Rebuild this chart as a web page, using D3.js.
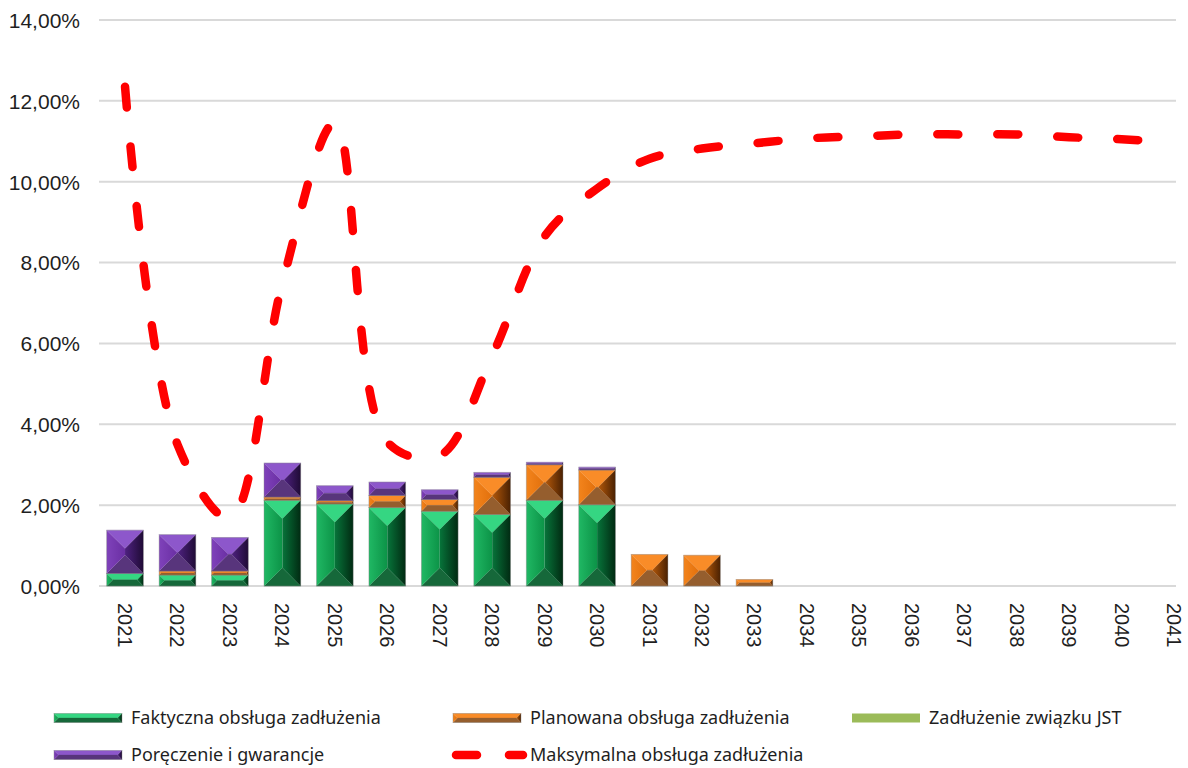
<!DOCTYPE html>
<html>
<head>
<meta charset="utf-8">
<script src="https://cdn.jsdelivr.net/npm/d3@7/dist/d3.min.js"></script>
<style>
	body { margin: 0; background: #ffffff; }
	svg { display: block; font-family: "Noto Sans", "Open Sans", sans-serif; }
	.axis text { fill: #1f1f1f; }
	.legend text { fill: #1f1f1f; font-size: 18px; }
</style>
</head>
<body>
<svg id="chart" width="1188" height="768"></svg>
<script>
// data (percent of revenue)
var years = ["2021", "2022", "2023", "2024", "2025", "2026", "2027", "2028", "2029", "2030", "2031",
	"2032", "2033", "2034", "2035", "2036", "2037", "2038", "2039", "2040", "2041"];
var faktyczna = [0.31, 0.27, 0.27, 2.12, 2.03, 1.94, 1.85, 1.77, 2.12, 2.01, 0, 0, 0, 0, 0, 0, 0, 0, 0, 0, 0];
var planowana = [0, 0.10, 0.10, 0.08, 0.08, 0.30, 0.29, 0.92, 0.88, 0.86, 0.78, 0.76, 0.16, 0, 0, 0, 0, 0, 0, 0, 0];
var zwiazekJST = [0, 0, 0, 0, 0, 0, 0, 0, 0, 0, 0, 0, 0, 0, 0, 0, 0, 0, 0, 0, 0];
var poreczenia = [1.07, 0.90, 0.83, 0.84, 0.37, 0.33, 0.24, 0.12, 0.06, 0.07, 0, 0, 0, 0, 0, 0, 0, 0, 0, 0, 0];
var maksymalna = [12.35, 3.5, 1.68, 7.5, 11.45, 3.56, 3.23, 5.7, 8.65, 9.83, 10.57,
	10.82, 10.95, 11.07, 11.12, 11.17, 11.17, 11.17, 11.1, 11.05, 10.97];
var yTicks = [0, 2, 4, 6, 8, 10, 12, 14];

var seriesNames = ["Faktyczna obsługa zadłużenia", "Planowana obsługa zadłużenia",
	"Zadłużenie związku JST", "Poręczenie i gwarancje", "Maksymalna obsługa zadłużenia"];

// bevel colours per series
var palettes = {
	green: { top: "#35d682", bottom: "#16683a", leftA: "#20b864", leftB: "#0c9347", rightA: "#07743a", rightB: "#012a12" },
	orange: { top: "#f98c28", bottom: "#955e2e", leftA: "#f3841c", leftB: "#e2700c", rightA: "#b3580a", rightB: "#4a2102" },
	purple: { top: "#8d57cb", bottom: "#58357c", leftA: "#7f42ba", leftB: "#6a2fa3", rightA: "#4e2180", rightB: "#1f0b35" },
	light: { flat: "#9bbb59" }
};

var svg = d3.select("#chart");
var defs = svg.append("defs");

Object.keys(palettes).forEach(function(key) {
	var p = palettes[key];
	if (p.flat) return;
	var gl = defs.append("linearGradient").attr("id", "left-" + key);
	gl.append("stop").attr("offset", "0%").attr("stop-color", p.leftA);
	gl.append("stop").attr("offset", "100%").attr("stop-color", p.leftB);
	var gr = defs.append("linearGradient").attr("id", "right-" + key);
	gr.append("stop").attr("offset", "0%").attr("stop-color", p.rightA);
	gr.append("stop").attr("offset", "100%").attr("stop-color", p.rightB);
});

// draws a rectangle with four bevelled facets
function drawBevel(g, x, y, w, h, key) {
	if (h <= 0 || w <= 0) return;
	var p = palettes[key];
	if (p.flat) {
		g.append("rect").attr("x", x).attr("y", y).attr("width", w).attr("height", h).style("fill", p.flat);
		return;
	}
	var b = Math.min(w / 2, h / 2);
	var x1 = x + w, y1 = y + h;
	var facets = [
		{ pts: [[x, y], [x1, y], [x1 - b, y + b], [x + b, y + b]], fill: p.top },
		{ pts: [[x, y1], [x + b, y1 - b], [x1 - b, y1 - b], [x1, y1]], fill: p.bottom },
		{ pts: [[x, y], [x + b, y + b], [x + b, y1 - b], [x, y1]], fill: "url(#left-" + key + ")" },
		{ pts: [[x1, y], [x1, y1], [x1 - b, y1 - b], [x1 - b, y + b]], fill: "url(#right-" + key + ")" }
	];
	facets.forEach(function(f) {
		g.append("polygon")
			.attr("points", f.pts.map(function(d) { return d.join(","); }).join(" "))
			.style("fill", f.fill)
			.style("stroke", f.fill.indexOf("url") == 0 ? "none" : f.fill)
			.style("stroke-width", 0.3);
	});
	if (w - 2 * b > 0.5 && h - 2 * b > 0.5) {
		g.append("rect").attr("x", x + b).attr("y", y + b).attr("width", w - 2 * b).attr("height", h - 2 * b)
			.style("fill", p.leftB);
	}
	g.append("rect").attr("x", x).attr("y", y).attr("width", w).attr("height", h)
		.style("fill", "none").style("stroke", "#8a8a8a").style("stroke-opacity", 0.5).style("stroke-width", 0.8);
}

// scales
var xScale = d3.scaleBand()
	.domain(years)
	.range([98.8, 1200.3])
	.paddingInner(0.3)
	.paddingOuter(0.15);
var yScale = d3.scaleLinear()
	.domain([0, 14])
	.range([586, 20]);
var gridRight = 1176;

// grid
svg.append("g").attr("class", "grid")
	.selectAll("line")
	.data(yTicks)
	.enter()
	.append("line")
	.attr("x1", 99)
	.attr("x2", gridRight)
	.attr("y1", function(d) { return yScale(d); })
	.attr("y2", function(d) { return yScale(d); })
	.style("stroke", "#d9d9d9")
	.style("stroke-width", 2);

// y axis
var yAxis = d3.axisLeft(yScale)
	.tickValues(yTicks)
	.tickSize(0)
	.tickPadding(0)
	.tickFormat(function(d) { return d3.format(".2f")(d).replace(".", ",") + "%"; });
var yAxisG = svg.append("g")
	.attr("class", "axis y")
	.attr("transform", "translate(80,0)")
	.call(yAxis);
yAxisG.select(".domain").remove();
yAxisG.selectAll("text").style("font-size", "21px").attr("dy", "0.35em");

// x axis (rotated labels)
var xAxis = d3.axisBottom(xScale).tickSize(0).tickPadding(0);
var xAxisG = svg.append("g")
	.attr("class", "axis x")
	.attr("transform", "translate(0,603)")
	.call(xAxis);
xAxisG.select(".domain").remove();
xAxisG.selectAll("text")
	.style("font-size", "20px")
	.style("text-anchor", "start")
	.attr("x", 0)
	.attr("y", 0)
	.attr("dy", "0.35em")
	.attr("transform", "rotate(90)");

// stacked bars
var stackKeys = [
	{ values: faktyczna, key: "green" },
	{ values: planowana, key: "orange" },
	{ values: zwiazekJST, key: "light" },
	{ values: poreczenia, key: "purple" }
];
var barGroup = svg.append("g").attr("class", "bars");
years.forEach(function(year, i) {
	var base = 0;
	var g = barGroup.append("g").attr("class", "bar-group");
	stackKeys.forEach(function(s) {
		var v = s.values[i];
		if (v > 0) {
			var yTop = yScale(base + v);
			var yBottom = yScale(base);
			drawBevel(g, xScale(year), yTop, xScale.bandwidth(), yBottom - yTop, s.key);
		}
		base += v;
	});
});

// max debt service line
var line = d3.line()
	.x(function(d, i) { return xScale(years[i]) + xScale.bandwidth() / 2; })
	.y(function(d) { return yScale(d); })
	.curve(d3.curveCatmullRom.alpha(0.5));
svg.append("path")
	.datum(maksymalna)
	.attr("class", "max-line")
	.attr("d", line)
	.style("fill", "none")
	.style("stroke", "#ff0000")
	.style("stroke-width", 8.5)
	.style("stroke-linecap", "round")
	.style("stroke-dasharray", "21,39");

// legend
var legend = svg.append("g").attr("class", "legend");
var legendItems = [
	{ name: seriesNames[0], key: "green", x: 54, y: 718 },
	{ name: seriesNames[1], key: "orange", x: 453, y: 718 },
	{ name: seriesNames[2], key: "light", x: 852, y: 718 },
	{ name: seriesNames[3], key: "purple", x: 54, y: 755 },
	{ name: seriesNames[4], key: "line", x: 453, y: 755 }
];
legendItems.forEach(function(item) {
	var g = legend.append("g");
	if (item.key == "line") {
		g.append("line")
			.attr("x1", item.x + 3).attr("x2", item.x + 70)
			.attr("y1", item.y).attr("y2", item.y)
			.style("stroke", "#ff0000")
			.style("stroke-width", 8.5)
			.style("stroke-linecap", "round")
			.style("stroke-dasharray", "21,32");
	} else {
		drawBevel(g, item.x, item.y - 4.5, 68, 9, item.key);
	}
	g.append("text")
		.attr("x", item.x + 77)
		.attr("y", item.y)
		.attr("dy", "0.35em")
		.text(item.name);
});
</script>
</body>
</html>
